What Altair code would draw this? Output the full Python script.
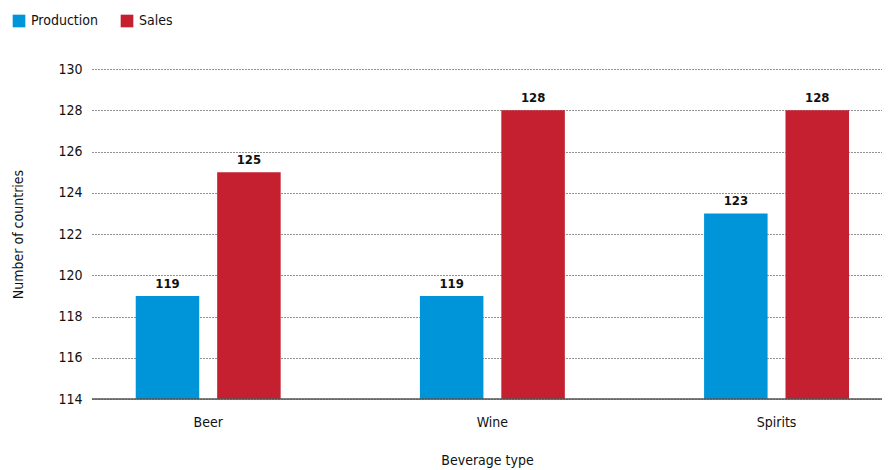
import altair as alt
import pandas as pd

categories = ["Beer", "Wine", "Spirits"]
production = [119, 119, 123]
sales = [125, 128, 128]
series = ["Production", "Sales"]
colors = ["#0095D8", "#C4202F"]
y_ticks = [114, 116, 118, 120, 122, 124, 126, 128, 130]

rows = []
for c, p, s in zip(categories, production, sales):
    rows.append({"Beverage": c, "Series": "Production", "Value": p})
    rows.append({"Beverage": c, "Series": "Sales", "Value": s})
df = pd.DataFrame(rows)

FONT = "DejaVu Sans Condensed, Liberation Sans Narrow, Roboto, sans-serif"

x = alt.X("Beverage:N", sort=categories, title="Beverage type",
          scale=alt.Scale(paddingInner=0.49, paddingOuter=0.135, align=0.57),
          axis=alt.Axis(labelAngle=0, ticks=False, labelPadding=16, titlePadding=24,
                        domain=False))
xo = alt.XOffset("Series:N", sort=series, scale=alt.Scale(paddingInner=0.22))
yscale = alt.Scale(domain=[114, 130], nice=False, zero=False)
y = alt.Y("Value:Q", title="Number of countries", scale=yscale,
          axis=alt.Axis(values=y_ticks, ticks=False, labelPadding=10, titlePadding=32,
                        grid=True, gridDash=[1, 2], gridColor="#222", gridWidth=1,
                        domain=False))
color = alt.Color("Series:N", sort=series,
                  scale=alt.Scale(domain=series, range=colors),
                  legend=alt.Legend(title=None, orient="none", direction="horizontal",
                                    legendX=-80, legendY=-55, symbolType="square",
                                    symbolSize=160, symbolStrokeWidth=0,
                                    columnPadding=22, labelOffset=5))

base = alt.Chart(df)
bars = base.mark_bar(clip=True).encode(
    x=x, xOffset=xo, y=y, y2=alt.datum(114), color=color
)
labels = base.mark_text(baseline="bottom", dy=-5, fontWeight="bold", fontSize=13,
                        font=FONT, color="#111").encode(
    x=x, xOffset=xo, y=y, text=alt.Text("Value:Q")
)
baseline = alt.Chart(pd.DataFrame({"v": [114]})).mark_rule(
    color="#555", strokeWidth=1.5).encode(y=alt.datum(114))

chart = alt.layer(bars, labels, baseline).properties(
    width=790, height=330,
    autosize=alt.AutoSizeParams(type="none"),
    padding={"left": 84, "top": 61, "right": 0, "bottom": 70},
).configure_view(stroke=None).configure_axis(
    labelFont=FONT, titleFont=FONT, labelFontSize=14, titleFontSize=14,
    labelColor="#111", titleColor="#111", titleFontWeight="normal"
).configure_legend(
    labelFont=FONT, labelFontSize=14, labelColor="#111"
).configure_text(font=FONT)

chart.save("out.html", embed_options={"renderer": "svg", "actions": False})
